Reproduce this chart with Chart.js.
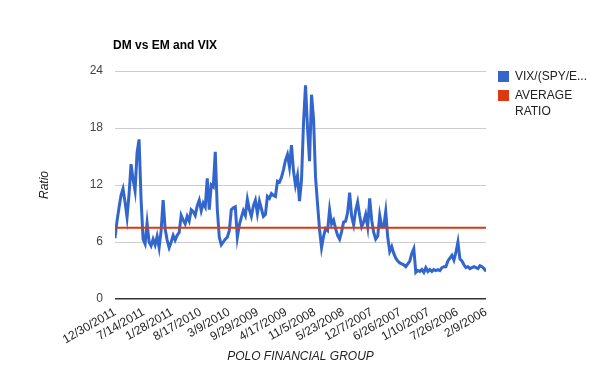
<!DOCTYPE html>
<html>
<head>
<meta charset="utf-8">
<script src="https://cdn.jsdelivr.net/npm/chart.js@4.4.1/dist/chart.umd.min.js"></script>
<style>
  html, body { margin: 0; padding: 0; background: #fff; }
  #wrap { width: 600px; height: 371px; position: relative; }
</style>
</head>
<body>
<div id="wrap"><canvas id="chart" width="600" height="371"></canvas></div>
<script>
// Dates on the axis (newest on the left, as in the source)
const tickLabels = [
  '12/30/2011', '7/14/2011', '1/28/2011', '8/17/2010', '3/9/2010', '9/29/2009', '4/17/2009',
  '11/5/2008', '5/23/2008', '12/7/2007', '6/26/2007', '1/10/2007', '7/26/2006', '2/9/2006'
];

// VIX/(SPY/EEM) ratio, sampled along the time axis (12/30/2011 -> 2/9/2006)
const ratioValues = [
  6.4, 8.2, 9.6, 10.9, 11.6, 10.2, 8.6, 11.0, 14.2, 12.6,
  11.4, 15.4, 16.8, 10.5, 6.3, 5.8, 8.0, 6.0, 5.6, 6.3,
  5.7, 6.6, 5.4, 7.2, 10.4, 7.4, 6.2, 5.4, 6.0, 6.7,
  6.2, 6.7, 7.0, 8.8, 8.3, 7.9, 8.7, 8.2, 9.4, 9.2,
  8.8, 9.8, 10.4, 9.3, 10.1, 9.7, 12.7, 9.4, 12.0, 11.8,
  15.5, 9.5, 6.5, 5.7, 6.0, 6.3, 6.5, 7.2, 9.4, 9.6,
  9.7, 6.5, 7.8, 8.6, 9.3, 8.8, 10.5, 9.4, 8.7, 9.8,
  10.4, 9.0, 10.3, 9.5, 8.7, 8.9, 10.8, 10.6, 11.1, 10.9,
  10.8, 12.4, 12.3, 12.8, 13.6, 14.6, 15.2, 13.9, 16.2, 13.5,
  12.0, 13.0, 10.3, 12.5, 18.5, 22.5, 18.0, 14.5, 21.5, 19.0,
  12.8, 10.0, 7.3, 5.4, 6.6, 7.4, 7.2, 9.4, 7.9, 8.3,
  7.4, 6.7, 6.3, 7.1, 8.1, 8.2, 9.1, 11.2, 8.7, 7.8,
  9.3, 10.2, 8.8, 7.6, 8.1, 8.9, 7.6, 10.6, 8.3, 7.0,
  6.3, 6.6, 8.8, 7.6, 7.6, 9.2, 6.5, 5.0, 5.5, 4.8,
  4.3, 4.0, 3.8, 3.7, 3.6, 3.4, 3.7, 4.0, 4.8, 5.3,
  2.8, 3.0, 2.9, 3.1, 2.8, 3.3, 2.9, 3.1, 2.9, 3.1,
  3.0, 3.1, 3.0, 3.3, 3.4, 3.4, 4.0, 4.3, 4.6, 4.1,
  4.9, 6.0, 4.2, 4.0, 3.6, 3.3, 3.4, 3.2, 3.3, 3.4,
  3.3, 3.2, 3.5, 3.4, 3.2, 2.9
];

const avgRatio = 7.5;
const yTicks = [0, 6, 12, 18, 24];

const FONT = "Arial, 'Liberation Sans', sans-serif";
const lastIdx = ratioValues.length - 1;

// Title, axis titles and legend, placed like the Google chart
const decorations = {
  id: 'decorations',
  afterDraw(chart) {
    const ctx = chart.ctx;
    const area = chart.chartArea;
    ctx.save();
    ctx.fillStyle = '#000';
    ctx.font = 'bold 12px ' + FONT;
    ctx.textBaseline = 'middle';
    ctx.textAlign = 'left';
    ctx.fillText('DM vs EM and VIX', 113, 46);

    ctx.fillStyle = '#222';
    ctx.font = 'italic 12px ' + FONT;
    ctx.textAlign = 'center';
    ctx.fillText('POLO FINANCIAL GROUP', (area.left + area.right) / 2, 357);

    ctx.save();
    ctx.translate(45, (area.top + area.bottom) / 2);
    ctx.rotate(-Math.PI / 2);
    ctx.fillText('Ratio', 0, 0);
    ctx.restore();

    // legend
    ctx.font = '12px ' + FONT;
    ctx.textAlign = 'left';
    ctx.fillStyle = '#3366cc';
    ctx.fillRect(498, 71, 11, 11);
    ctx.fillStyle = '#dc3912';
    ctx.fillRect(498, 90, 11, 11);
    ctx.fillStyle = '#222';
    ctx.fillText('VIX/(SPY/E...', 515, 77);
    ctx.fillText('AVERAGE', 515, 96);
    ctx.fillText('RATIO', 515, 112);
    ctx.restore();
  }
};

new Chart(document.getElementById('chart'), {
  type: 'line',
  data: {
    datasets: [
      {
        label: 'VIX/(SPY/EEM)',
        data: ratioValues.map((v, i) => ({ x: i, y: v })),
        borderColor: '#3366cc',
        borderWidth: 3,
        pointRadius: 0,
        tension: 0,
        order: 1
      },
      {
        label: 'AVERAGE RATIO',
        data: [{ x: 0, y: avgRatio }, { x: lastIdx, y: avgRatio }],
        borderColor: '#dc3912',
        borderWidth: 2,
        pointRadius: 0,
        order: 0
      }
    ]
  },
  options: {
    responsive: false,
    animation: false,
    layout: { padding: { left: 0, right: 114, top: 71, bottom: 0 } },
    plugins: { legend: { display: false }, title: { display: false }, tooltip: { enabled: false } },
    scales: {
      x: {
        type: 'linear',
        min: 0,
        max: lastIdx,
        afterFit(scale) { scale.height = 72; },
        afterBuildTicks(scale) {
          scale.ticks = tickLabels.map((_, i) => ({ value: i * lastIdx / (tickLabels.length - 1) }));
        },
        grid: { display: false, drawTicks: false },
        border: { display: false },
        ticks: {
          autoSkip: false,
          maxRotation: 30,
          minRotation: 30,
          padding: 6,
          color: '#222',
          font: { family: FONT, size: 12 },
          callback: (val, idx) => tickLabels[idx]
        }
      },
      y: {
        min: 0,
        max: 24,
        afterFit(scale) { scale.width = 115; },
        afterBuildTicks(scale) { scale.ticks = yTicks.map(v => ({ value: v })); },
        grid: {
          drawTicks: false,
          color: ctx => (ctx.tick && ctx.tick.value === 0 ? '#333' : '#cccccc'),
          lineWidth: ctx => (ctx.tick && ctx.tick.value === 0 ? 1.5 : 1)
        },
        border: { display: false },
        ticks: {
          padding: 12,
          color: '#444',
          font: { family: FONT, size: 12 }
        }
      }
    }
  },
  plugins: [decorations]
});
</script>
</body>
</html>
